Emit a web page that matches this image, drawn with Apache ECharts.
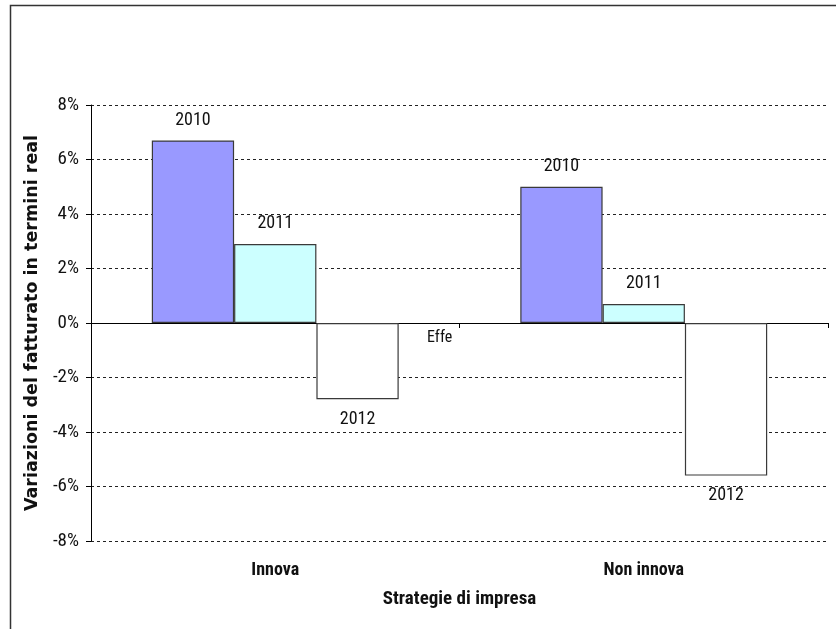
<!DOCTYPE html>
<html>
<head>
<meta charset="utf-8">
<script src="https://cdn.jsdelivr.net/npm/echarts@6/dist/echarts.min.js"></script>
<style>
  html, body { margin: 0; padding: 0; background: #fff; }
  #chart { width: 836px; height: 629px; }
</style>
</head>
<body>
<div id="chart"></div>
<script>
// Categories (business strategy) and yearly change in real-terms turnover (%)
const categories = ['Innova', 'Non innova'];
const seriesNames = ['2010', '2011', '2012'];
const values2010 = [6.7, 5.0];
const values2011 = [2.9, 0.7];
const values2012 = [-2.8, -5.6];
const yTicks = { min: -8, max: 8, step: 2 };

const narrow = "'Liberation Sans Narrow', 'Arial Narrow', 'Roboto Condensed', sans-serif";
const fills = ['#9999FF', '#CCFFFF', '#FFFFFF'];
const allValues = [values2010, values2011, values2012];

function makeSeries(i) {
  return {
    name: seriesNames[i],
    type: 'bar',
    xAxisIndex: 0,
    barGap: '0%',
    barCategoryGap: '33%',
    itemStyle: { color: fills[i], borderColor: '#3a3a3a', borderWidth: 1.2 },
    data: allValues[i].map(v => ({
      value: v,
      label: { position: v < 0 ? 'bottom' : 'top' }
    })),
    label: {
      show: true,
      distance: 11,
      formatter: () => seriesNames[i],
      fontFamily: narrow,
      fontSize: 18,
      color: '#111'
    },
    emphasis: { disabled: true },
    silent: true
  };
}

const chart = echarts.init(document.getElementById('chart'), null, { renderer: 'canvas' });
chart.setOption({
  animation: false,
  backgroundColor: '#fff',
  grid: { left: 91, right: 8, top: 105, bottom: 88 },
  xAxis: [
    {
      // category labels sit at the foot of the plot
      type: 'category',
      data: categories,
      position: 'bottom',
      axisLine: { show: false, onZero: false },
      axisTick: { show: false },
      axisLabel: {
        margin: 20,
        fontFamily: narrow,
        fontWeight: 'bold',
        fontSize: 18,
        color: '#111'
      },
      name: 'Strategie di impresa',
      nameLocation: 'middle',
      nameGap: 49,
      nameTextStyle: {
        fontFamily: narrow,
        fontWeight: 'bold',
        fontSize: 19,
        color: '#111'
      }
    },
    {
      // axis line and ticks drawn along the zero line
      type: 'category',
      data: categories,
      position: 'bottom',
      axisLine: { show: true, onZero: true, lineStyle: { color: '#000', width: 1 } },
      axisTick: { show: true, length: 5, lineStyle: { color: '#000' } },
      axisLabel: { show: false }
    }
  ],
  yAxis: {
    type: 'value',
    min: yTicks.min,
    max: yTicks.max,
    interval: yTicks.step,
    axisLine: { show: true, lineStyle: { color: '#000', width: 1 } },
    axisTick: { show: true, length: 5, lineStyle: { color: '#000' } },
    axisLabel: {
      formatter: '{value}%',
      margin: 12,
      fontFamily: narrow,
      fontSize: 19,
      color: '#111'
    },
    splitLine: {
      show: true,
      lineStyle: { color: '#222', type: [3, 3], width: 1 }
    },
    name: 'Variazioni del fatturato in termini real',
    nameLocation: 'middle',
    nameRotate: 90,
    nameGap: 50,
    nameTextStyle: {
      fontFamily: "'DejaVu Sans', Verdana, sans-serif",
      fontWeight: 'bold',
      fontSize: 17.5,
      color: '#111'
    }
  },
  series: [makeSeries(0), makeSeries(1), makeSeries(2)],
  graphic: [
    {
      type: 'rect',
      shape: { x: 10.5, y: 5.5, width: 840, height: 640 },
      style: { fill: null, stroke: '#333', lineWidth: 1.5 },
      silent: true,
      z: 100
    },
    {
      type: 'text',
      left: 427,
      top: 330,
      style: { text: 'Effe', font: '16px ' + narrow, fill: '#111' },
      silent: true
    }
  ]
});
</script>
</body>
</html>
